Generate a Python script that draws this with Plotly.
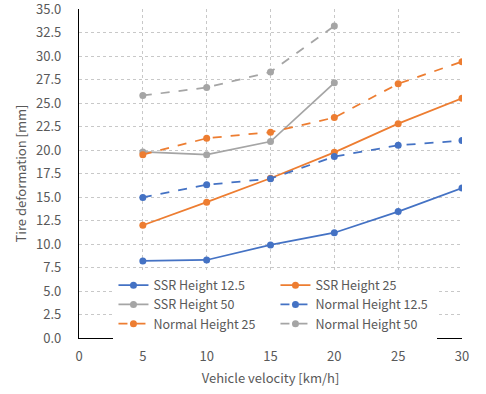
import plotly.graph_objects as go

velocity = [5, 10, 15, 20, 25, 30]
velocity_50 = [5, 10, 15, 20]

ssr_12_5 = [8.2, 8.3, 9.9, 11.2, 13.45, 15.95]
ssr_25 = [12.0, 14.45, 17.0, 19.75, 22.8, 25.5]
ssr_50 = [19.8, 19.5, 20.9, 27.15]
normal_12_5 = [14.95, 16.3, 16.95, 19.3, 20.5, 21.0]
normal_25 = [19.5, 21.25, 21.9, 23.45, 27.05, 29.4]
normal_50 = [25.8, 26.65, 28.3, 33.2]

BLUE = "#4472C4"
ORANGE = "#ED7D31"
GRAY = "#A5A5A5"
FONT = "Noto Sans CJK JP"
TXT = "#595959"

series = [
    ("SSR Height 12.5", velocity, ssr_12_5, BLUE, "solid"),
    ("SSR Height 25", velocity, ssr_25, ORANGE, "solid"),
    ("SSR Height 50", velocity_50, ssr_50, GRAY, "solid"),
    ("Normal Height 12.5", velocity, normal_12_5, BLUE, "dash"),
    ("Normal Height 25", velocity, normal_25, ORANGE, "dash"),
    ("Normal Height 50", velocity_50, normal_50, GRAY, "dash"),
]

fig = go.Figure()
for name, xs, ys, color, dash in series:
    fig.add_trace(go.Scatter(
        x=xs, y=ys, name=name, mode="lines+markers",
        line=dict(color=color, width=1.75, dash=dash),
        marker=dict(color=color, size=7, symbol="circle"),
    ))

fig.update_layout(
    width=486, height=394,
    margin=dict(l=79, r=24, t=9, b=56, autoexpand=False),
    paper_bgcolor="white", plot_bgcolor="white",
    font=dict(family=FONT, size=13, color=TXT),
    showlegend=True,
    legend=dict(
        orientation="h", x=0.09, y=0.205, xanchor="left", yanchor="top",
        entrywidth=117, entrywidthmode="pixels",
        bgcolor="white", font=dict(family=FONT, size=12.5, color=TXT),
        tracegroupgap=0,
    ),
    xaxis=dict(
        range=[0, 30], dtick=5, tick0=0,
        showgrid=True, gridcolor="#C8C8C8", griddash="dot", gridwidth=1,
        showline=True, linecolor="#000000", linewidth=1.2,
        zeroline=False, ticks="", ticklabelstandoff=6,
        title=dict(text="Vehicle velocity [km/h]", font=dict(size=13, color=TXT), standoff=10),
        tickfont=dict(size=13, color=TXT),
    ),
    yaxis=dict(
        range=[0, 35], dtick=2.5, tick0=0, tickformat=".1f",
        showgrid=True, gridcolor="#C8C8C8", griddash="dot", gridwidth=1,
        showline=True, linecolor="#000000", linewidth=1.2,
        zeroline=False, ticks="", ticklabelstandoff=14, ticklabeloverflow="allow",
        title=dict(text="Tire deformation [mm]", font=dict(size=13, color=TXT), standoff=6),
        tickfont=dict(size=13, color=TXT),
    ),
)

fig.write_html("out.html", config={"displayModeBar": False},
               post_script="document.body.style.margin='0';")
